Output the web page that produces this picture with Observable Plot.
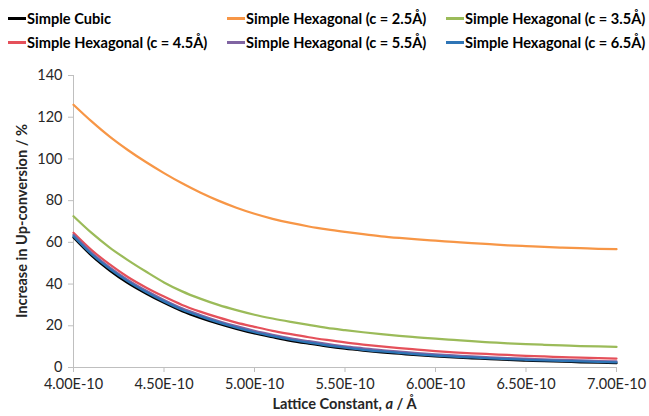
<!DOCTYPE html>
<html>
<head>
<meta charset="utf-8">
<script src="https://cdn.jsdelivr.net/npm/d3@7"></script>
<script src="https://cdn.jsdelivr.net/npm/@observablehq/plot@0.6"></script>
<style>
  html, body { margin: 0; padding: 0; background: #fff; }
  #wrap { width: 649px; height: 416px; position: relative; font-family: Lato, "Open Sans", sans-serif; }
  #legend { position: relative; width: 649px; height: 55px; }
  .item { position: absolute; display: flex; align-items: center; font-weight: 700; font-size: 14.6px; color: #000; white-space: nowrap; }
  .swatch { width: 18px; height: 2.5px; margin-right: 1px; }
</style>
</head>
<body>
<div id="wrap">
  <div id="legend"></div>
  <div id="chart"></div>
</div>
<script>
// Lattice constant a (m)
const latticeA = [4.0e-10, 4.1e-10, 4.2e-10, 4.3e-10, 4.4e-10, 4.5e-10, 4.6e-10, 4.7e-10, 4.8e-10, 4.9e-10,
  5.0e-10, 5.1e-10, 5.2e-10, 5.3e-10, 5.4e-10, 5.5e-10, 5.6e-10, 5.7e-10, 5.8e-10, 5.9e-10,
  6.0e-10, 6.1e-10, 6.2e-10, 6.3e-10, 6.4e-10, 6.5e-10, 6.6e-10, 6.7e-10, 6.8e-10, 6.9e-10, 7.0e-10];

const seriesNames = ["Simple Cubic", "Simple Hexagonal (c = 2.5Å)", "Simple Hexagonal (c = 3.5Å)",
  "Simple Hexagonal (c = 4.5Å)", "Simple Hexagonal (c = 5.5Å)", "Simple Hexagonal (c = 6.5Å)"];
const seriesColors = ["#000000", "#F79646", "#9BBB59", "#E5505A", "#8064A2", "#2E75B6"];

const simpleCubic = [62.3, 53.6, 46.5, 40.5, 35.5, 31.0, 27.0, 23.8, 21.0, 18.5,
  16.3, 14.5, 12.8, 11.4, 10.1, 9.0, 8.1, 7.3, 6.6, 5.9,
  5.3, 4.8, 4.4, 4.0, 3.6, 3.3, 3.0, 2.8, 2.5, 2.3, 2.1];
const hex25 = [126, 118, 110.7, 104.3, 98.5, 93.2, 88.3, 83.9, 80.0, 76.6,
  73.7, 71.3, 69.3, 67.6, 66.2, 65.0, 63.9, 62.9, 62.1, 61.4,
  60.8, 60.2, 59.6, 59.1, 58.6, 58.2, 57.8, 57.5, 57.2, 56.9, 56.7];
const hex35 = [72.5, 64.5, 57.5, 51.5, 46.0, 40.8, 36.5, 33.0, 30.0, 27.5,
  25.3, 23.5, 21.9, 20.4, 19.0, 17.9, 16.9, 16.0, 15.2, 14.5,
  13.8, 13.2, 12.6, 12.1, 11.6, 11.2, 10.9, 10.6, 10.3, 10.1, 9.9];
const hex45 = [64.6, 56.3, 49.4, 43.4, 38.4, 34.0, 30.0, 26.8, 24.0, 21.5,
  19.5, 17.6, 16.0, 14.5, 13.2, 12.0, 11.0, 10.1, 9.3, 8.6,
  7.9, 7.3, 6.8, 6.4, 6.0, 5.6, 5.3, 5.0, 4.7, 4.5, 4.3];
const hex55 = [63.6, 55.0, 48.0, 42.0, 36.9, 32.4, 28.4, 25.2, 22.3, 19.8,
  17.6, 15.7, 14.0, 12.6, 11.3, 10.1, 9.2, 8.3, 7.6, 6.9,
  6.3, 5.8, 5.3, 4.9, 4.5, 4.2, 3.9, 3.6, 3.4, 3.1, 2.9];
const hex65 = [62.9, 54.3, 47.3, 41.3, 36.2, 31.7, 27.7, 24.5, 21.6, 19.1,
  16.9, 15.0, 13.3, 11.9, 10.6, 9.5, 8.5, 7.7, 7.0, 6.3,
  5.7, 5.2, 4.8, 4.4, 4.0, 3.7, 3.4, 3.2, 2.9, 2.7, 2.5];

const xTicks = [4.0e-10, 4.5e-10, 5.0e-10, 5.5e-10, 6.0e-10, 6.5e-10, 7.0e-10];
const xTickLabels = ["4.00E-10", "4.50E-10", "5.00E-10", "5.50E-10", "6.00E-10", "6.50E-10", "7.00E-10"];
const yTicks = [0, 20, 40, 60, 80, 100, 120, 140];

const allSeries = [simpleCubic, hex25, hex35, hex45, hex55, hex65];
const data = seriesNames.map((name, s) =>
  latticeA.map((a, i) => ({series: name, a, v: allSeries[s][i]})));

// Legend
const legendPos = [[8, 19], [227, 19], [446, 19], [8, 43], [227, 43], [446, 43]];
const legend = document.getElementById("legend");
seriesNames.forEach((name, i) => {
  const it = document.createElement("div");
  it.className = "item";
  it.style.left = legendPos[i][0] + "px";
  it.style.top = (legendPos[i][1] - 9) + "px";
  const sw = document.createElement("span");
  sw.className = "swatch";
  sw.style.background = seriesColors[i];
  it.appendChild(sw);
  const t = document.createElement("span");
  t.textContent = name;
  it.appendChild(t);
  legend.appendChild(it);
});

const plot = Plot.plot({
  width: 649,
  height: 361,
  marginLeft: 73,
  marginRight: 33,
  marginTop: 20,
  marginBottom: 49,
  style: {fontFamily: "Lato, 'Open Sans', sans-serif", fontSize: "14.5px", color: "#404040", background: "#fff"},
  x: {type: "linear", domain: [4.0e-10, 7.0e-10], label: null},
  y: {domain: [0, 140], label: null},
  color: {domain: seriesNames, range: seriesColors},
  marks: [
    Plot.ruleX([4.0e-10], {stroke: "#BFBFBF", strokeWidth: 1}),
    Plot.ruleY([0], {stroke: "#BFBFBF", strokeWidth: 1}),
    Plot.axisX({ticks: xTicks, tickFormat: (d, i) => xTickLabels[i], tickSize: 5, tickPadding: 6, stroke: "#BFBFBF", fill: "#262626", label: null}),
    Plot.axisY({ticks: yTicks, tickSize: 5, tickPadding: 6, stroke: "#BFBFBF", fill: "#262626", label: null}),
    ...data.map(d => Plot.line(d, {x: "a", y: "v", stroke: "series", strokeWidth: 2.25, curve: "monotone-x"}))
  ]
});
document.getElementById("chart").appendChild(plot);

// Axis titles with italic "a"
const svg = d3.select(plot);
const xr = plot.scale("x").range, yr = plot.scale("y").range;
const xt = svg.append("text")
  .attr("x", (xr[0] + xr[1]) / 2)
  .attr("y", 361 - 7)
  .attr("text-anchor", "middle")
  .attr("font-weight", 700)
  .attr("font-size", 14.6)
  .attr("fill", "#262626");
xt.append("tspan").text("Lattice Constant, ");
xt.append("tspan").attr("font-style", "italic").text("a");
xt.append("tspan").text(" / Å");

svg.append("text")
  .attr("transform", `translate(27,${(yr[0] + yr[1]) / 2}) rotate(-90)`)
  .attr("text-anchor", "middle")
  .attr("font-weight", 700)
  .attr("font-size", 14.6)
  .attr("fill", "#262626")
  .text("Increase in Up-conversion / %");
</script>
</body>
</html>
